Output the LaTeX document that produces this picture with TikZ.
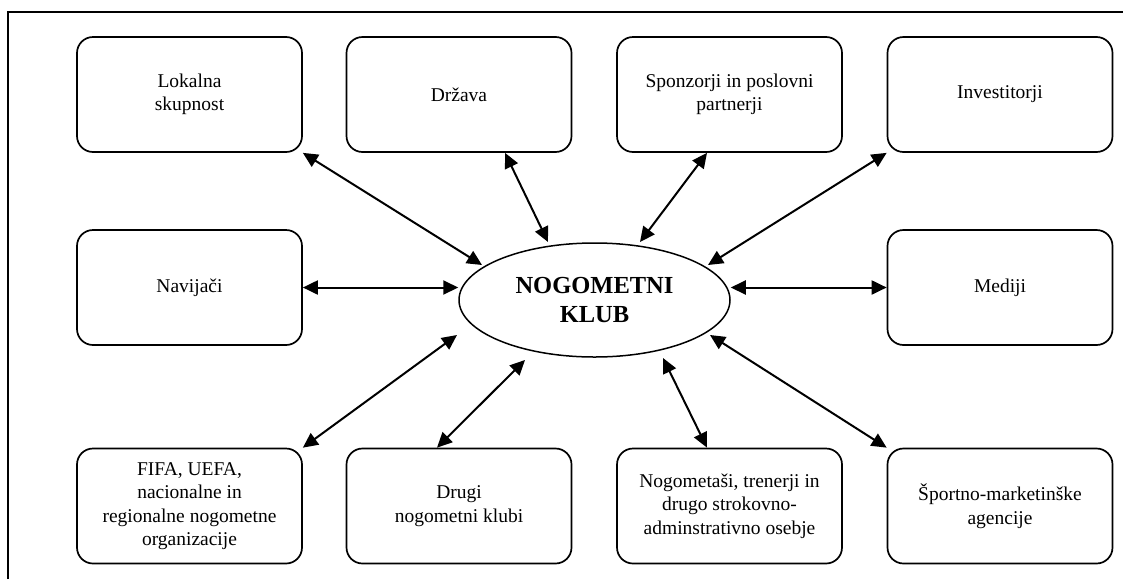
\documentclass[tikz,border=0pt]{standalone}
\usepackage{fontspec}
\setmainfont{Liberation Serif}
\usetikzlibrary{arrows.meta,calc,shapes.geometric}

\begin{document}
\begin{tikzpicture}[x=1pt,y=-1pt,
  stake/.style={draw, line width=1.7pt, rounded corners=16pt,
    minimum width=225pt, minimum height=115pt, inner sep=0pt,
    align=center, font=\fontsize{19.5}{23.5}\selectfont},
  hub/.style={draw, ellipse, line width=1.5pt, minimum width=271pt,
    minimum height=114pt, inner sep=0pt, align=center,
    font=\bfseries\fontsize{24.5}{28.5}\selectfont},
  link/.style={line width=2pt,
    {Triangle[length=15pt,width=14pt]}-{Triangle[length=15pt,width=14pt]}},
]
\useasboundingbox (0,0) rectangle (1123,579);

% outer frame (left and top edges)
\draw[line width=1.4pt] (8,579) -- (8,12) -- (1123,12);

% central node
\node[hub] (club) at (594.5,300) {NOGOMETNI\\KLUB};

% top row
\node[stake] (lok) at (189.5,94.5) {Lokalna\\skupnost};
\node[stake] (drz) at (459,94.5) {Država};
\node[stake] (spo) at (729.5,94.5) {Sponzorji in poslovni\\partnerji};
\node[stake] (inv) at (1000,94.5) {Investitorji};

% middle row
\node[stake] (nav) at (189.5,287.5) {Navijači};
\node[stake] (med) at (1000,287.5) {Mediji};

% bottom row
\node[stake] (fifa) at (189.5,506) {FIFA, UEFA,\\nacionalne in\\regionalne nogometne\\organizacije};
\node[stake] (dru) at (459,506) {Drugi\\nogometni klubi};
\node[stake] (nog) at (729.5,506) {Nogometaši, trenerji in\\drugo strokovno-\\adminstrativno osebje};
\node[stake] (spa) at (1000,506) {Športno-marketinške\\agencije};

% two-way relations
\draw[link] (lok.south east) -- ($(club.center)+(-112.5,-35)$);
\draw[link] ([xshift=46pt]drz.south) -- ($(club.center)+(-46.5,-58)$);
\draw[link] ([xshift=-22.5pt]spo.south) -- ($(club.center)+(45.5,-58)$);
\draw[link] (inv.south west) -- ($(club.center)+(113.5,-35)$);
\draw[link] (nav.east) -- (nav.east -| club.west);
\draw[link] (med.west) -- (med.west -| club.east);
\draw[link] (fifa.north east) -- ($(club.center)+(-137.5,35)$);
\draw[link] ([xshift=-22pt]dru.north) -- ($(club.center)+(-69.5,60)$);
\draw[link] ([xshift=-22.5pt]nog.north) -- ($(club.center)+(68.5,58)$);
\draw[link] (spa.north west) -- ($(club.center)+(115.5,35)$);
\end{tikzpicture}
\end{document}
